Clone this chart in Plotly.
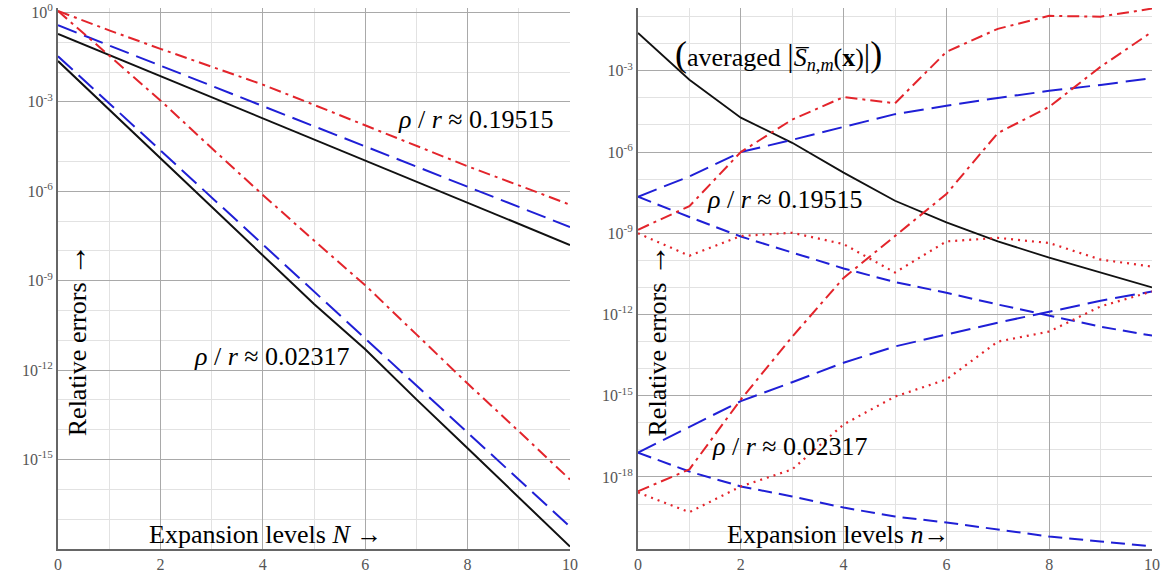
import numpy as np
import plotly.graph_objects as go

# ---------------- data (log10 of relative error) ----------------
N = [0, 1, 2, 3, 4, 5, 6, 7, 8, 9, 10]

# left panel, rho/r ~ 0.19515
L_hi_red = [0.05, -0.6, -1.22, -1.82, -2.42, -3.1, -3.78, -4.48, -5.16, -5.8, -6.45]
L_hi_blue = [-0.43, -1.1, -1.78, -2.46, -3.14, -3.82, -4.49, -5.17, -5.85, -6.52, -7.2]
L_hi_black = [-0.72, -1.43, -2.14, -2.84, -3.55, -4.26, -4.97, -5.68, -6.38, -7.09, -7.8]
# left panel, rho/r ~ 0.02317
L_lo_red = [0.05, -1.45, -2.95, -4.55, -6.12, -7.65, -9.15, -10.8, -12.45, -14.05, -15.67]
L_lo_blue = [-1.47, -3.05, -4.63, -6.2, -7.78, -9.36, -10.94, -12.52, -14.09, -15.67, -17.25]
L_lo_black = [-1.63, -3.26, -4.89, -6.52, -8.15, -9.78, -11.3, -12.98, -14.62, -16.27, -17.92]

# right panel
R_black = [-1.6, -3.33, -4.73, -5.66, -6.76, -7.8, -8.6, -9.3, -9.9, -10.45, -11.0]
R_hi_blue_up = [-7.65, -6.9, -6.0, -5.55, -5.07, -4.6, -4.29, -4.0, -3.74, -3.52, -3.27]
R_hi_blue_dn = [-7.65, -8.4, -9.12, -9.7, -10.3, -10.8, -11.2, -11.63, -12.05, -12.45, -12.78]
R_hi_red = [-8.87, -8.0, -6.0, -4.8, -3.97, -4.2, -2.3, -1.45, -0.97, -1.0, -0.7]
R_hi_dot = [-9.0, -9.83, -9.1, -8.98, -9.4, -10.45, -9.3, -9.17, -9.36, -9.97, -10.23]
R_lo_blue_up = [-17.1, -16.14, -15.2, -14.5, -13.78, -13.18, -12.74, -12.3, -11.9, -11.49, -11.15]
R_lo_blue_dn = [-17.1, -17.8, -18.35, -18.72, -19.13, -19.46, -19.68, -19.94, -20.2, -20.38, -20.56]
R_lo_red = [-18.53, -17.72, -15.14, -12.82, -10.65, -9.1, -7.55, -5.3, -4.33, -2.85, -1.56]
R_lo_dot = [-18.57, -19.3, -18.35, -17.72, -16.06, -15.03, -14.4, -13.0, -12.63, -11.7, -11.15]

x_ticks = [0, 2, 4, 6, 8, 10]
left_y_ticks = [0, -3, -6, -9, -12, -15]
right_y_ticks = [-3, -6, -9, -12, -15, -18]

RED = "#e3242b"
BLUE = "#1f1fd6"
BLACK = "#111111"
DASHDOT = "12px,5px,3px,5px"
LONGDASH = "20px,8px"
SHORTDASH = "14px,7px"
DOTS = "2px,5px"
SERIF = "Liberation Serif"


def v(lst):
    return 10.0 ** np.array(lst)


fig = go.Figure()


def add(xa, ya, y, color, dash, width=2.0):
    fig.add_trace(go.Scatter(x=N, y=v(y), mode="lines", xaxis=xa, yaxis=ya,
                             line=dict(color=color, dash=dash, width=width),
                             showlegend=False, hoverinfo="skip"))


# left panel
add("x", "y", L_hi_red, RED, DASHDOT)
add("x", "y", L_hi_blue, BLUE, LONGDASH)
add("x", "y", L_hi_black, BLACK, "solid")
add("x", "y", L_lo_red, RED, DASHDOT)
add("x", "y", L_lo_blue, BLUE, LONGDASH)
add("x", "y", L_lo_black, BLACK, "solid")

# right panel
add("x2", "y2", R_black, BLACK, "solid", 1.8)
add("x2", "y2", R_hi_blue_up, BLUE, LONGDASH)
add("x2", "y2", R_hi_blue_dn, BLUE, SHORTDASH)
add("x2", "y2", R_hi_red, RED, DASHDOT)
add("x2", "y2", R_hi_dot, RED, DOTS, 2.2)
add("x2", "y2", R_lo_blue_up, BLUE, LONGDASH)
add("x2", "y2", R_lo_blue_dn, BLUE, SHORTDASH)
add("x2", "y2", R_lo_red, RED, DASHDOT)
add("x2", "y2", R_lo_dot, RED, DOTS, 2.2)

W, H = 1165, 579
tickfont = dict(family=SERIF, size=16, color="#555555")


def xax(domain, anchor):
    return dict(domain=domain, anchor=anchor, range=[0, 10], tickvals=x_ticks,
                ticktext=[str(t) for t in x_ticks], showgrid=True, gridcolor="#a9a9a9",
                gridwidth=1, zeroline=False, showline=True, linecolor="#666666",
                linewidth=2, ticks="", tickfont=tickfont, automargin=False,
                minor=dict(dtick=1, showgrid=True, gridcolor="#e2e2e2", gridwidth=1))


def yax(rng, ticks, anchor):
    decades = list(range(int(np.floor(rng[0])), 1))
    return dict(type="log", range=rng, anchor=anchor, automargin=False,
                tickvals=[10.0 ** t for t in ticks],
                ticktext=["10<sup>%d</sup>" % t for t in ticks],
                showgrid=True, gridcolor="#a9a9a9", gridwidth=1, zeroline=False,
                showline=True, linecolor="#666666", linewidth=2, ticks="",
                tickfont=tickfont, ticklabeloverflow="allow",
                minor=dict(tickvals=[10.0 ** d for d in decades], showgrid=True,
                           gridcolor="#e2e2e2", gridwidth=1))


fig.update_layout(
    width=W, height=H,
    margin=dict(l=0, r=0, t=8, b=30),
    paper_bgcolor="white", plot_bgcolor="white",
    xaxis=xax([58 / W, 570 / W], "y"),
    xaxis2=xax([638 / W, 1152 / W], "y2"),
    yaxis=yax([-18, 0.15], left_y_ticks, "x"),
    yaxis2=yax([-20.66, -0.68], right_y_ticks, "x2"),
)

afont = dict(family=SERIF, size=26, color="black")


def ann(xr, yr, x, y, text, angle=0):
    fig.add_annotation(xref=xr, yref=yr, x=x, y=y, text=text, showarrow=False,
                       font=afont, textangle=angle, bgcolor="rgba(255,255,255,0)")


ARROW = "<span style='font-size:32px'>→</span>"
ann("x", "y", 8.16, -3.59, "<i>ρ</i> / <i>r</i> ≈ 0.19515")
ann("x", "y", 4.18, -11.54, "<i>ρ</i> / <i>r</i> ≈ 0.02317")
ann("x", "y", 4.06, -17.5, "Expansion levels <i>N</i> →")
ann("x", "y", 0.33, -11.0, "Relative errors " + ARROW, -90)

ann("x2", "y2", 2.74, -2.41,
    "<span style='font-size:36px'>(</span>averaged "
    "<span style='font-size:32px'>|</span><i>S̅</i><sub><i>n,m</i></sub>(<b>x</b>)"
    "<span style='font-size:32px'>|</span><span style='font-size:36px'>)</span>")
ann("x2", "y2", 2.86, -7.76, "<i>ρ</i> / <i>r</i> ≈ 0.19515")
ann("x2", "y2", 2.96, -16.87, "<i>ρ</i> / <i>r</i> ≈ 0.02317")
ann("x2", "y2", 3.89, -20.12, "Expansion levels <i>n</i>→")
ann("x2", "y2", 0.33, -12.96, "Relative errors " + ARROW, -90)

fig.write_html("out.html",
               config={"displayModeBar": False},
               post_script="document.body.style.margin='0px';"
                           "document.body.style.overflow='hidden';")
